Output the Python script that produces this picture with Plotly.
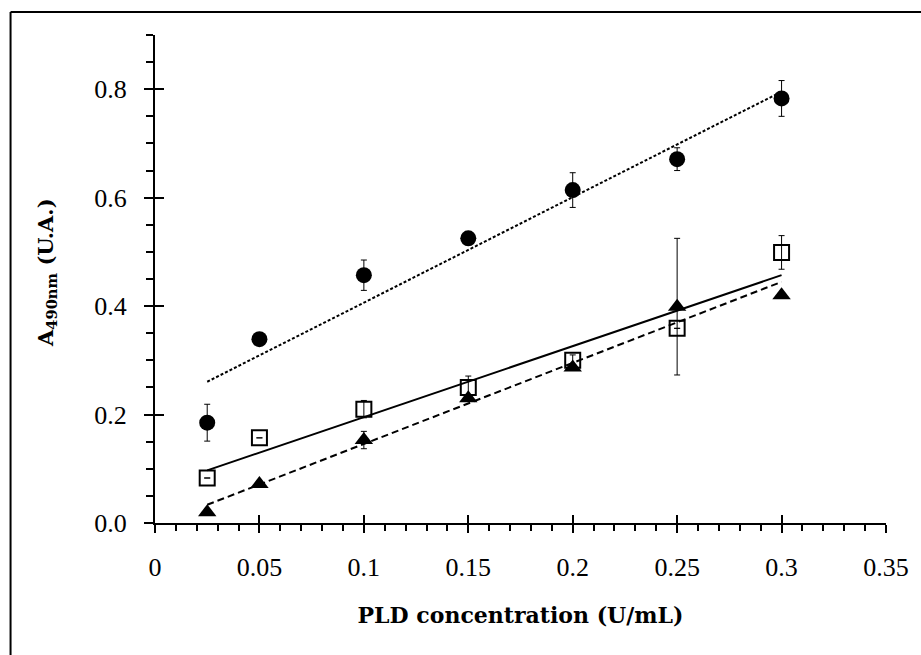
import numpy as np
import plotly.graph_objects as go

# PLD concentration (U/mL)
conc = [0.025, 0.05, 0.1, 0.15, 0.2, 0.25, 0.3]

# Absorbance at 490 nm for each substrate series, with SD error bars
circ_y = [0.185, 0.339, 0.457, 0.525, 0.614, 0.671, 0.783]
circ_err = [0.034, 0.0, 0.028, 0.008, 0.032, 0.021, 0.033]

sq_y = [0.083, 0.157, 0.210, 0.250, 0.300, 0.359, 0.499]
sq_err = [0.0, 0.0, 0.016, 0.021, 0.010, 0.0, 0.031]

tri_y = [0.020, 0.072, 0.153, 0.230, 0.287, 0.399, 0.420]
tri_err = [0.0, 0.0, 0.016, 0.0, 0.0, 0.126, 0.0]

FONT = "Liberation Serif"
TITLE_FONT = "DejaVu Serif"
X_RANGE = [0, 0.35]
Y_RANGE = [0, 0.9]

fig = go.Figure()


def fit_line(xs, ys):
    k, b = np.polyfit(xs, ys, 1)
    fx = np.array([min(xs), max(xs)])
    return fx, k * fx + b


series = [
    (circ_y, circ_err, "circle", "3px,2px"),
    (sq_y, sq_err, "square-open", "solid"),
    (tri_y, tri_err, "triangle-up", "7px,4px"),
]

# linear regression lines
for ys, errs, sym, dash in series:
    fx, fy = fit_line(conc, ys)
    fig.add_trace(go.Scatter(
        x=fx, y=fy, mode="lines",
        line=dict(color="black", width=2, dash=dash),
        showlegend=False, hoverinfo="skip",
    ))

# measured points
for ys, errs, sym, dash in series:
    fig.add_trace(go.Scatter(
        x=conc, y=ys, mode="markers",
        marker=dict(symbol=sym, size=16 if sym != "square-open" else 15,
                    color="black",
                    line=dict(color="black", width=2 if sym == "square-open" else 0)),
        error_y=dict(type="data", array=errs, visible=True,
                     color="black", thickness=1, width=3),
        showlegend=False,
    ))

fig.update_layout(
    width=921, height=655,
    margin=dict(l=155, r=27, t=35, b=132),
    paper_bgcolor="white", plot_bgcolor="white",
    showlegend=False,
    xaxis=dict(
        range=X_RANGE, tickmode="linear", tick0=0, dtick=0.05,
        ticks="outside", ticklen=8, ticklabelstandoff=12,
        showline=True, linecolor="black", linewidth=2,
        showgrid=False, zeroline=False, tickcolor="black", tickwidth=2,
        tickfont=dict(family=FONT, size=26, color="black"),
        minor=dict(dtick=0.01, ticks="outside", ticklen=6,
                   tickcolor="black", tickwidth=2),
        title=dict(text="<b>PLD concentration (U/mL)</b>",
                   font=dict(family=TITLE_FONT, size=22, color="black"),
                   standoff=26),
    ),
    yaxis=dict(
        range=Y_RANGE, tickmode="linear", tick0=0, dtick=0.2,
        tickformat=".1f",
        ticks="outside", ticklen=9, ticklabelstandoff=12,
        showline=True, linecolor="black", linewidth=2,
        showgrid=False, zeroline=False, tickcolor="black", tickwidth=2,
        tickfont=dict(family=FONT, size=26, color="black"),
        minor=dict(dtick=0.05, ticks="outside", ticklen=7,
                   tickcolor="black", tickwidth=2),
    ),
    # inward halves of the major ticks
    xaxis2=dict(overlaying="x", anchor="y", side="bottom", range=X_RANGE,
                tickmode="linear", tick0=0, dtick=0.05,
                ticks="inside", ticklen=8, tickwidth=2, tickcolor="black",
                showticklabels=False, showline=False, showgrid=False,
                zeroline=False),
    yaxis2=dict(overlaying="y", anchor="x", side="left", range=Y_RANGE,
                tickmode="linear", tick0=0, dtick=0.2,
                ticks="inside", ticklen=9, tickwidth=2, tickcolor="black",
                showticklabels=False, showline=False, showgrid=False,
                zeroline=False),
    annotations=[
        dict(text="<b>A<sub>490nm</sub> (U.A.)</b>", textangle=-90,
             xref="paper", yref="paper", x=-0.149, y=0.5, yshift=6,
             xanchor="center", yanchor="middle", showarrow=False,
             font=dict(family=TITLE_FONT, size=21, color="black")),
    ],
    shapes=[
        dict(type="line", xref="paper", yref="paper",
             x0=-0.1976, x1=1.05, y0=1.047, y1=1.047,
             line=dict(color="black", width=2)),
        dict(type="line", xref="paper", yref="paper",
             x0=-0.1976, x1=-0.1976, y0=1.047, y1=-0.28,
             line=dict(color="black", width=2)),
    ],
)

# transparent copy of one point so the overlay tick axes are rendered
fig.add_trace(go.Scatter(x=[conc[0]], y=[circ_y[0]], xaxis="x2", yaxis="y2",
                         mode="markers", marker=dict(opacity=0),
                         showlegend=False, hoverinfo="skip"))

fig.write_html("out.html")
